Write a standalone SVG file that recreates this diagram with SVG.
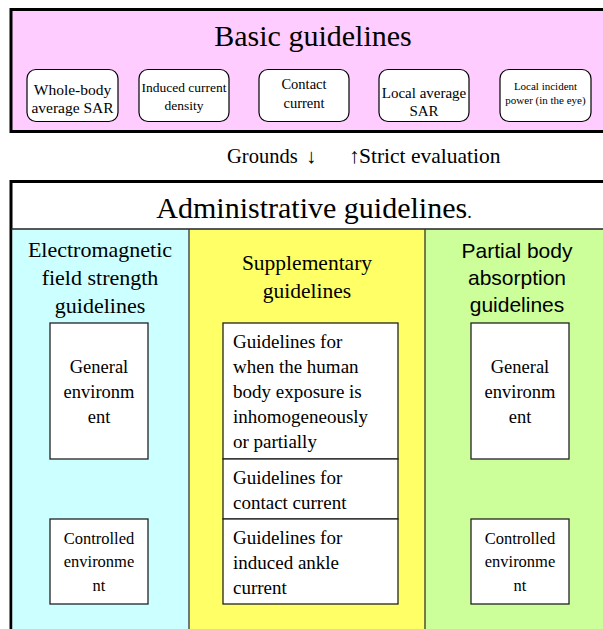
<svg xmlns="http://www.w3.org/2000/svg" width="603" height="629" viewBox="0 0 603 629">
<style>
text{font-family:'Liberation Serif','DejaVu Serif',serif;fill:#000}
.a{font-family:'Liberation Sans','DejaVu Sans',sans-serif}
.c{text-anchor:middle}
.rb{fill:#fff;stroke:#000;stroke-width:1.2}
.wb{fill:#fff;stroke:#222;stroke-width:1.3}
</style>
<g id="basic">
<rect x="11" y="9.5" width="600" height="122" fill="#FFCCFF" stroke="#000" stroke-width="3"/>
<text class="c" x="313" y="46" font-size="30">Basic guidelines</text>
</g>
<g id="b1"><rect class="rb" x="27" y="69.5" width="91" height="52" rx="9"/>
<text class="c" font-size="15.5"><tspan x="72.5" y="95">Whole-body</tspan><tspan x="72.5" y="113">average SAR</tspan></text></g>
<g id="b2"><rect class="rb" x="139" y="69.5" width="90" height="52" rx="9"/>
<text class="c" font-size="13.5"><tspan x="184" y="92">Induced current</tspan><tspan x="184" y="110">density</tspan></text></g>
<g id="b3"><rect class="rb" x="259" y="69.5" width="90" height="52" rx="9"/>
<text class="c" font-size="14.5"><tspan x="304" y="89">Contact</tspan><tspan x="304" y="108">current</tspan></text></g>
<g id="b4"><rect class="rb" x="379" y="69.5" width="90" height="52" rx="9"/>
<text class="c" font-size="15"><tspan x="424" y="98">Local average</tspan><tspan x="424" y="116">SAR</tspan></text></g>
<g id="b5"><rect class="rb" x="500" y="69.5" width="91" height="52" rx="9"/>
<text class="c" font-size="11"><tspan x="545.5" y="90">Local incident</tspan><tspan x="545.5" y="104">power (in the eye)</tspan></text></g>

<g id="arrows-label">
<text x="227" y="163" font-size="20.5">Grounds <tspan x="306">↓</tspan></text>
<text x="349" y="163" font-size="21.5">↑<tspan x="359">Strict evaluation</tspan></text>
</g>

<g id="admin">
<rect x="11" y="181.5" width="600" height="460" fill="#fff" stroke="#000" stroke-width="3"/>
<rect x="12.5" y="229" width="177" height="402" fill="#CCFFFF"/>
<rect x="189" y="229" width="236" height="402" fill="#FFFF66"/>
<rect x="425" y="229" width="180" height="402" fill="#CCFF99"/>
<line x1="11" y1="229" x2="603" y2="229" stroke="#222" stroke-width="1.5"/>
<line x1="189" y1="229" x2="189" y2="629" stroke="#333" stroke-width="1.3"/>
<line x1="425" y1="229" x2="425" y2="629" stroke="#333" stroke-width="1.3"/>
<text class="c" x="314" y="218" font-size="30">Administrative guidelines<tspan font-size="18">.</tspan></text>
</g>

<g id="col-em">
<text class="c" font-size="22"><tspan x="100" y="257">Electromagnetic</tspan><tspan x="100" y="285">field strength</tspan><tspan x="100" y="313">guidelines</tspan></text>
</g>
<g id="em-general"><rect class="wb" x="50" y="323" width="98" height="136"/>
<text class="c" font-size="18.5"><tspan x="99" y="373">General</tspan><tspan x="99" y="398">environm</tspan><tspan x="99" y="423">ent</tspan></text></g>
<g id="em-controlled"><rect class="wb" x="50" y="519" width="98" height="85"/>
<text class="c" font-size="16.5"><tspan x="99" y="544">Controlled</tspan><tspan x="99" y="567">environme</tspan><tspan x="99" y="591">nt</tspan></text></g>

<g id="col-sup">
<text class="c" font-size="21.5"><tspan x="307" y="270">Supplementary</tspan><tspan x="307" y="298">guidelines</tspan></text>
</g>
<g id="sup-1"><rect class="wb" x="223" y="323" width="175" height="136"/>
<text font-size="19"><tspan x="233" y="348">Guidelines for</tspan><tspan x="233" y="373">when the human</tspan><tspan x="233" y="398">body exposure is</tspan><tspan x="233" y="423">inhomogeneously</tspan><tspan x="233" y="448">or partially</tspan></text></g>
<g id="sup-2"><rect class="wb" x="223" y="459" width="175" height="60"/>
<text font-size="19"><tspan x="233" y="484">Guidelines for</tspan><tspan x="233" y="509">contact current</tspan></text></g>
<g id="sup-3"><rect class="wb" x="223" y="519" width="175" height="85"/>
<text font-size="19"><tspan x="233" y="544">Guidelines for</tspan><tspan x="233" y="569">induced ankle</tspan><tspan x="233" y="594">current</tspan></text></g>

<g id="col-partial">
<text class="a c" font-size="21"><tspan x="517" y="258">Partial body</tspan><tspan x="517" y="285">absorption</tspan><tspan x="517" y="312">guidelines</tspan></text>
</g>
<g id="pb-general"><rect class="wb" x="471" y="323" width="98" height="136"/>
<text class="c" font-size="18.5"><tspan x="520" y="373">General</tspan><tspan x="520" y="398">environm</tspan><tspan x="520" y="423">ent</tspan></text></g>
<g id="pb-controlled"><rect class="wb" x="471" y="519" width="98" height="85"/>
<text class="c" font-size="16.5"><tspan x="520" y="544">Controlled</tspan><tspan x="520" y="567">environme</tspan><tspan x="520" y="591">nt</tspan></text></g>
<g id="connectors"></g>
</svg>
